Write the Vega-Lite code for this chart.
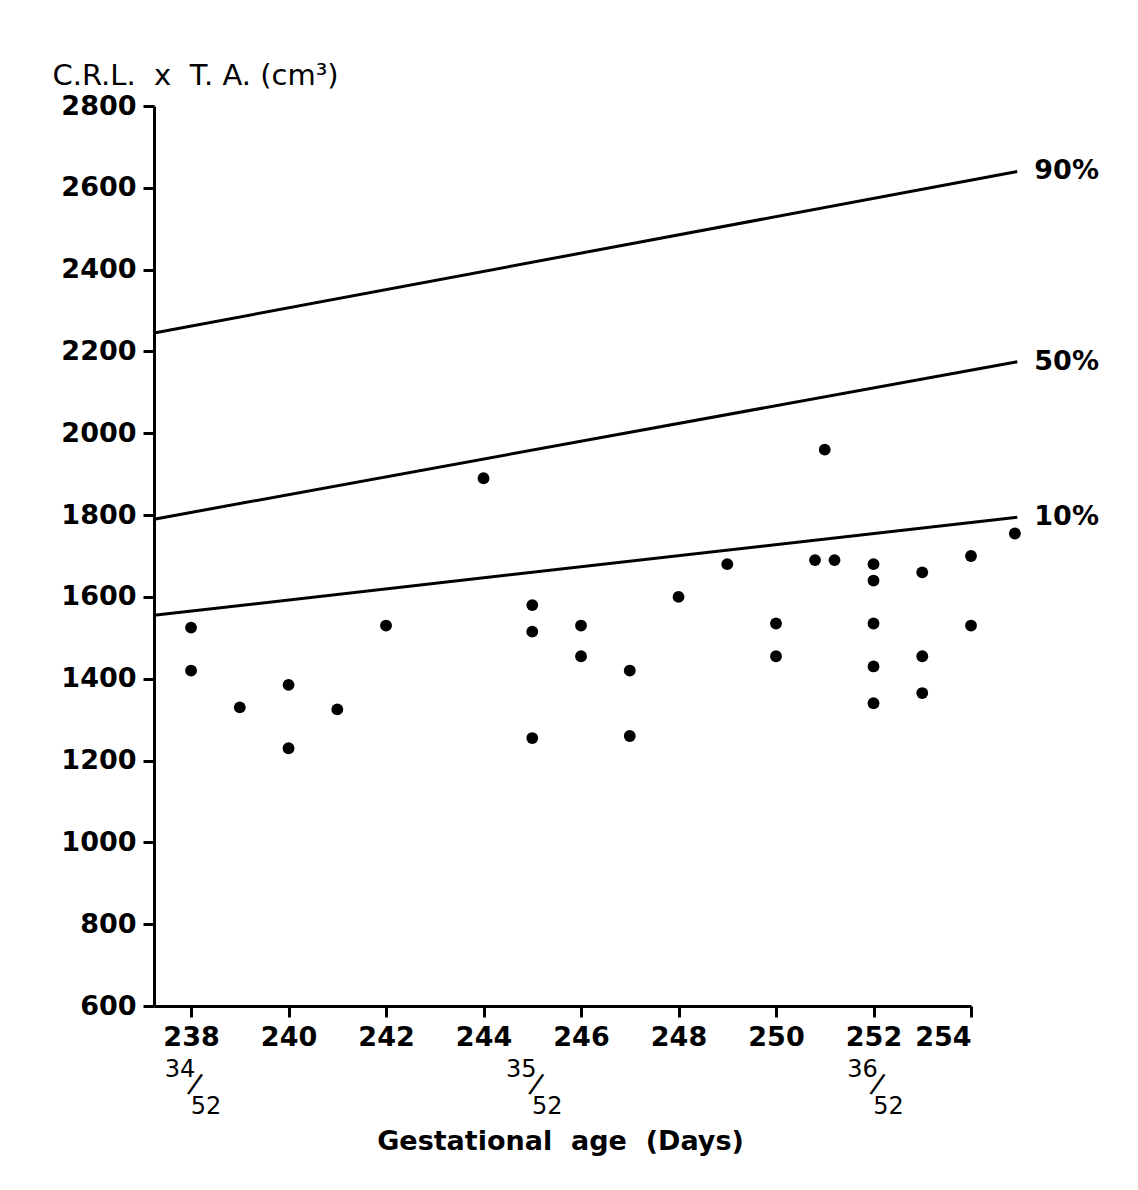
{
  "$schema": "https://vega.github.io/schema/vega-lite/v6.json",
  "autosize": {"type": "none"},
  "padding": {"left": 154, "top": 106, "right": 167, "bottom": 184},
  "width": 817,
  "height": 900,
  "background": "white",
  "config": {
    "view": {"stroke": null},
    "font": "DejaVu Sans",
    "axis": {
      "grid": false,
      "domainColor": "black",
      "domainWidth": 3,
      "tickColor": "black",
      "tickWidth": 3,
      "tickSize": 11,
      "labelFont": "DejaVu Sans",
      "labelFontWeight": "bold",
      "labelFontSize": 27,
      "labelColor": "black",
      "titleColor": "black",
      "titleFont": "DejaVu Sans"
    }
  },
  "datasets": {
    "points": [
      {"day": 238, "value": 1525}, {"day": 238, "value": 1420},
      {"day": 239, "value": 1330}, {"day": 240, "value": 1385},
      {"day": 240, "value": 1230}, {"day": 241, "value": 1325},
      {"day": 242, "value": 1530}, {"day": 244, "value": 1890},
      {"day": 245, "value": 1580}, {"day": 245, "value": 1515},
      {"day": 245, "value": 1255}, {"day": 246, "value": 1530},
      {"day": 246, "value": 1455}, {"day": 247, "value": 1420},
      {"day": 247, "value": 1260}, {"day": 248, "value": 1600},
      {"day": 249, "value": 1680}, {"day": 250, "value": 1535},
      {"day": 250, "value": 1455}, {"day": 250.8, "value": 1690},
      {"day": 251, "value": 1960}, {"day": 251.2, "value": 1690},
      {"day": 252, "value": 1680}, {"day": 252, "value": 1640},
      {"day": 252, "value": 1535}, {"day": 252, "value": 1430},
      {"day": 252, "value": 1340}, {"day": 253, "value": 1660},
      {"day": 253, "value": 1455}, {"day": 253, "value": 1365},
      {"day": 254, "value": 1700}, {"day": 254, "value": 1530},
      {"day": 254.9, "value": 1755}
    ],
    "centiles": [
      {"centile": "90%", "day": 237.24, "value": 2245},
      {"centile": "90%", "day": 254.95, "value": 2640},
      {"centile": "50%", "day": 237.24, "value": 1790},
      {"centile": "50%", "day": 254.95, "value": 2175},
      {"centile": "10%", "day": 237.24, "value": 1555},
      {"centile": "10%", "day": 254.95, "value": 1795}
    ],
    "weeks": [
      {"day": 238, "week": "34", "slash": "/", "of": "52"},
      {"day": 245, "week": "35", "slash": "/", "of": "52"},
      {"day": 252, "week": "36", "slash": "/", "of": "52"}
    ]
  },
  "layer": [
    {
      "data": {"name": "centiles"},
      "mark": {"type": "line", "color": "black", "strokeWidth": 3, "clip": false},
      "encoding": {
        "x": {
          "field": "day", "type": "quantitative",
          "scale": {"domain": [237.24, 254], "nice": false, "zero": false},
          "axis": {
            "values": [238, 240, 242, 244, 246, 248, 250, 252, 254],
            "format": "d",
            "labelPadding": 7,
            "title": "Gestational\u00a0 age\u00a0 (Days)",
            "titleFontSize": 27,
            "titleFontWeight": "bold",
            "titleY": 143,
            "titleX": 406,
            "titleBaseline": "alphabetic"
          }
        },
        "y": {
          "field": "value", "type": "quantitative",
          "scale": {"domain": [600, 2800], "nice": false, "zero": false},
          "axis": {
            "values": [600, 800, 1000, 1200, 1400, 1600, 1800, 2000, 2200, 2400, 2600, 2800],
            "format": "d",
            "labelPadding": 7,
            "title": "C.R.L.\u00a0\u00a0x\u00a0\u00a0T.\u00a0A.\u00a0(cm³)",
            "titleAngle": 0,
            "titleAlign": "left",
            "titleBaseline": "alphabetic",
            "titleX": -102,
            "titleY": -22,
            "titleFontSize": 29,
            "titleFontWeight": 500
          }
        },
        "detail": {"field": "centile"}
      }
    },
    {
      "data": {"name": "centiles"},
      "transform": [{"filter": "datum.day > 254"}],
      "mark": {"type": "text", "align": "left", "baseline": "middle", "dx": 17, "fontSize": 27, "fontWeight": "bold", "color": "black", "font": "DejaVu Sans"},
      "encoding": {
        "x": {"field": "day", "type": "quantitative"},
        "y": {"field": "value", "type": "quantitative"},
        "text": {"field": "centile"}
      }
    },
    {
      "data": {"name": "points"},
      "mark": {"type": "circle", "color": "black", "opacity": 1, "size": 140, "clip": false},
      "encoding": {
        "x": {"field": "day", "type": "quantitative"},
        "y": {"field": "value", "type": "quantitative"}
      }
    },
    {
      "data": {"name": "weeks"},
      "mark": {"type": "text", "align": "center", "baseline": "middle", "dx": -11, "dy": 64, "fontSize": 24, "color": "black", "font": "DejaVu Sans"},
      "encoding": {
        "x": {"field": "day", "type": "quantitative"},
        "y": {"datum": 600, "type": "quantitative"},
        "text": {"field": "week"}
      }
    },
    {
      "data": {"name": "weeks"},
      "mark": {"type": "text", "align": "center", "baseline": "middle", "dx": 28, "dy": 74, "fontSize": 28, "angle": 18, "color": "black", "font": "DejaVu Sans"},
      "encoding": {
        "x": {"field": "day", "type": "quantitative"},
        "y": {"datum": 600, "type": "quantitative"},
        "text": {"field": "slash"}
      }
    },
    {
      "data": {"name": "weeks"},
      "mark": {"type": "text", "align": "center", "baseline": "middle", "dx": 15, "dy": 101, "fontSize": 24, "color": "black", "font": "DejaVu Sans"},
      "encoding": {
        "x": {"field": "day", "type": "quantitative"},
        "y": {"datum": 600, "type": "quantitative"},
        "text": {"field": "of"}
      }
    }
  ]
}
